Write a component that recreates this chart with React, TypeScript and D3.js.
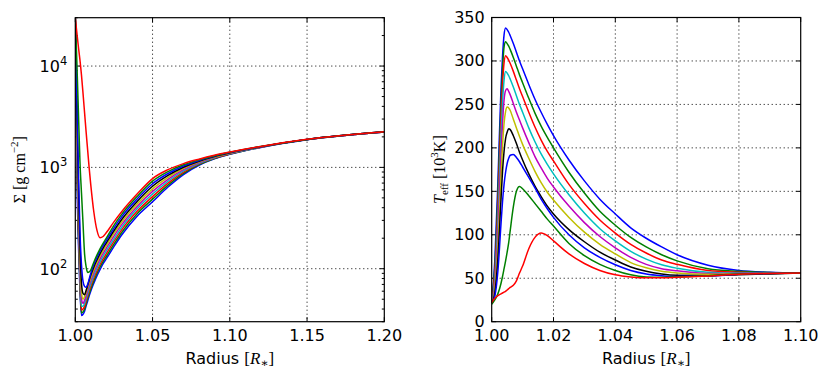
import React from 'react';
import * as d3 from 'd3';

// matplotlib classic colour cycle, one per model run
const runColors = ['#0000ff', '#008000', '#ff0000', '#00bfbf', '#bf00bf', '#bfbf00', '#000000', '#0000ff', '#008000', '#ff0000'];

// ---- left panel: surface density (log) ----
const sigmaRadius = [1.000, 1.001, 1.002, 1.003, 1.004, 1.005, 1.006, 1.007, 1.008, 1.009, 1.010, 1.012, 1.014, 1.016, 1.018, 1.020, 1.025, 1.030, 1.040, 1.050, 1.060, 1.070, 1.080, 1.090, 1.100, 1.120, 1.150, 1.200];
const sigma1 = [30000, 900, 180, 62, 34.5, 35.5, 38, 43, 48, 54, 60, 72, 85, 98, 112, 125, 165, 215, 330, 458, 640, 850, 1050, 1215, 1345, 1575, 1878, 2235];
const sigma2 = [30000, 1200, 220, 70, 36.5, 37.5, 40, 45, 51, 57, 63, 76, 90, 104, 118, 132, 175, 228, 349, 486, 669, 874, 1066, 1226, 1353, 1579, 1879, 2236];
const sigma3 = [30000, 1500, 270, 80, 39, 40, 42.5, 48, 54, 60.5, 67, 81, 95, 110, 125, 140, 186, 242, 369, 515, 699, 898, 1083, 1237, 1361, 1583, 1881, 2237];
const sigma4 = [30000, 1900, 330, 92, 43, 42.5, 45.5, 51, 57, 64, 71, 86, 101, 117, 133, 149, 197, 256, 390, 546, 730, 923, 1099, 1247, 1368, 1587, 1882, 2238];
const sigma5 = [30000, 2400, 420, 110, 51, 45.5, 49, 54.5, 61, 68.5, 76, 92, 108, 125, 142, 159, 210, 272, 412, 579, 763, 949, 1116, 1258, 1376, 1591, 1883, 2239];
const sigma6 = [30000, 3000, 540, 135, 59, 50, 53, 58.5, 65.5, 73, 81, 98, 115, 133, 151, 169, 223, 288, 436, 614, 797, 976, 1134, 1269, 1384, 1594, 1885, 2241];
const sigma7 = [30000, 3800, 700, 170, 72, 57, 55.5, 61, 68.5, 77, 86, 104, 122, 141, 160, 179, 237, 306, 461, 651, 833, 1003, 1151, 1281, 1392, 1598, 1886, 2242];
const sigma8 = [30000, 5000, 950, 240, 110, 75, 67, 65.5, 70, 79, 90, 110, 129, 149, 169, 189, 252, 325, 488, 690, 870, 1031, 1169, 1292, 1400, 1602, 1887, 2243];
const sigma9 = [30000, 11000, 3600, 1150, 560, 280, 140, 105, 92, 93, 97, 116, 136, 157, 178, 199, 268, 344, 516, 732, 909, 1060, 1187, 1303, 1408, 1606, 1889, 2244];
const sigma10 = [29500, 21400, 15500, 11500, 8130, 5370, 3470, 2240, 1480, 977, 676, 363, 240, 202, 208, 226, 290, 365, 545, 776, 950, 1090, 1205, 1315, 1416, 1610, 1890, 2245];
const sigmaSeries = [sigma1, sigma2, sigma3, sigma4, sigma5, sigma6, sigma7, sigma8, sigma9, sigma10];
const sigmaXTicks = [1.0, 1.05, 1.1, 1.15, 1.2];
const sigmaYTicks = [100, 1000, 10000];
const sigmaYExp = ['2', '3', '4'];

// ---- right panel: effective temperature ----
const teffRadius = [1.000, 1.001, 1.002, 1.003, 1.0035, 1.004, 1.0045, 1.005, 1.0055, 1.006, 1.007, 1.008, 1.009, 1.010, 1.012, 1.014, 1.016, 1.018, 1.020, 1.025, 1.030, 1.035, 1.040, 1.045, 1.050, 1.055, 1.060, 1.070, 1.080, 1.090, 1.100];
const teff1 = [22, 70, 160, 268, 305, 330, 338, 336, 333, 329, 320, 310, 300, 291, 273, 256, 241, 227, 214, 186, 162, 141, 124, 108, 96, 86, 77, 65, 59, 57, 56];
const teff2 = [22, 62, 145, 250, 290, 316, 322, 320, 317, 313, 304, 294, 284, 275, 257, 240, 225, 212, 200, 172, 148, 127, 111, 97, 86, 77, 70, 61, 58, 56.5, 56];
const teff3 = [22, 55, 130, 232, 272, 298, 306, 304, 301, 297, 288, 278, 268, 259, 241, 224, 209, 196, 185, 158, 136, 117, 102, 89, 79, 71, 66, 59, 57, 56, 56];
const teff4 = [22, 48, 115, 212, 252, 278, 288, 286, 283, 279, 270, 260, 250, 241, 223, 207, 193, 181, 170, 146, 125, 107, 93, 81, 72, 65.5, 61.5, 57, 56, 56, 56];
const teff5 = [22, 42, 100, 190, 228, 255, 266, 268, 265, 261, 251, 241, 232, 223, 206, 190, 177, 165, 155, 133, 114, 98, 85, 74, 66, 61, 58.5, 55.5, 55.5, 55.8, 56];
const teff6 = [21, 37, 85, 165, 202, 228, 242, 247, 246, 243, 233, 223, 213, 204, 188, 173, 160, 149, 140, 120, 103, 89, 78, 68, 62, 58, 56, 54.5, 55, 55.5, 56];
const teff7 = [21, 33, 72, 140, 173, 196, 211, 218, 222, 221, 214, 205, 195, 186, 170, 156, 144, 133, 124, 106, 92, 80, 71, 63, 58, 55, 53.5, 53, 54, 55, 56];
const teff8 = [21, 29, 58, 112, 138, 158, 172, 182, 188, 191.5, 192.5, 189, 184, 178, 166, 154, 141, 130, 120, 100, 85, 74, 65.5, 59, 55, 53, 52, 52.5, 54.5, 55.5, 56];
const teff9 = [20, 25, 32, 44, 52, 61, 70, 80, 91, 105, 132, 150, 155.5, 153, 145, 136, 127, 118, 110, 90, 76, 66, 59, 54, 51.5, 51, 51.5, 53, 55, 55.5, 56];
const teff10 = [22, 27, 30, 32, 33, 34, 35, 36.5, 38, 39.5, 42, 47, 56, 64, 84, 97, 102, 99, 93, 78, 67, 59, 54, 51.5, 50.5, 50.5, 51, 52.5, 54.5, 55.5, 56];
const teffSeries = [teff1, teff2, teff3, teff4, teff5, teff6, teff7, teff8, teff9, teff10];
const teffXTicks = [1.0, 1.02, 1.04, 1.06, 1.08, 1.1];
const teffYTicks = [0, 50, 100, 150, 200, 250, 300, 350];

const sans = 'DejaVu Sans, sans-serif';
const serif = 'Liberation Serif, DejaVu Serif, serif';
const gridDash = '1,3';

type Box = { x0: number; x1: number; y0: number; y1: number };
const leftBox: Box = { x0: 75.3, x1: 384.3, y0: 17.7, y1: 321.7 };
const rightBox: Box = { x0: 491.7, x1: 800.7, y0: 17.5, y1: 321.7 };

function Curves({ id, radius, series, x, y }: any) {
  const line = d3.line<number>()
    .x((_, i) => x(radius[i]))
    .y((v) => y(v))
    .curve(d3.curveMonotoneX);
  return (
    <g clipPath={`url(#${id})`}>
      {series.map((s: number[], i: number) => (
        <path key={i} d={line(s) || ''} fill="none" stroke={runColors[i]} strokeWidth={1.5} strokeLinejoin="round" />
      ))}
    </g>
  );
}

function XAxis({ box, x, ticks, fmt }: any) {
  return (
    <g>
      {ticks.map((t: number, i: number) => {
        const px = x(t);
        return (
          <g key={i}>
            {i > 0 && i < ticks.length - 1 && (
              <line x1={px} x2={px} y1={box.y0} y2={box.y1} stroke="#000" strokeWidth={1} strokeDasharray={gridDash} />
            )}
            <line x1={px} x2={px} y1={box.y1} y2={box.y1 - 4.5} stroke="#000" />
            <line x1={px} x2={px} y1={box.y0} y2={box.y0 + 4.5} stroke="#000" />
            <text x={px} y={340.5} textAnchor="middle" fontFamily={sans} fontSize={16}>{fmt(t)}</text>
          </g>
        );
      })}
      <text x={(box.x0 + box.x1) / 2} y={364} textAnchor="middle" fontFamily={sans} fontSize={16}>
        Radius <tspan fontFamily={serif} fontSize={17}>[</tspan>
        <tspan fontFamily={serif} fontStyle="italic" fontSize={17}>R</tspan>
        <tspan fontFamily={serif} fontSize={12} dy={3}>∗</tspan>
        <tspan fontFamily={serif} fontSize={17} dy={-3}>]</tspan>
      </text>
    </g>
  );
}

export default function App() {
  const xL = d3.scaleLinear().domain([1.0, 1.2]).range([leftBox.x0, leftBox.x1]);
  const yL = d3.scaleLog().domain([30, 30000]).range([leftBox.y1, leftBox.y0]);
  const xR = d3.scaleLinear().domain([1.0, 1.1]).range([rightBox.x0, rightBox.x1]);
  const yR = d3.scaleLinear().domain([0, 350]).range([rightBox.y1, rightBox.y0]);

  const minorL = yL.ticks().filter((t) => !sigmaYTicks.includes(t));
  const fmt2 = d3.format('.2f');

  return (
    <svg width={830} height={380} style={{ position: 'absolute', left: 0, top: 0, display: 'block', background: '#fff' }}>
      <defs>
        <clipPath id="clipL"><rect x={leftBox.x0} y={leftBox.y0} width={leftBox.x1 - leftBox.x0} height={leftBox.y1 - leftBox.y0} /></clipPath>
        <clipPath id="clipR"><rect x={rightBox.x0} y={rightBox.y0} width={rightBox.x1 - rightBox.x0} height={rightBox.y1 - rightBox.y0} /></clipPath>
      </defs>

      {/* left panel */}
      {sigmaYTicks.map((t, i) => (
        <g key={i}>
          <line x1={leftBox.x0} x2={leftBox.x1} y1={yL(t)} y2={yL(t)} stroke="#000" strokeWidth={1} strokeDasharray={gridDash} />
          <line x1={leftBox.x0} x2={leftBox.x0 + 4.5} y1={yL(t)} y2={yL(t)} stroke="#000" />
          <line x1={leftBox.x1} x2={leftBox.x1 - 4.5} y1={yL(t)} y2={yL(t)} stroke="#000" />
          <text x={leftBox.x0 - 8} y={yL(t) + 6} textAnchor="end" fontFamily={sans} fontSize={16}>
            10<tspan fontSize={11.5} dy={-7}>{sigmaYExp[i]}</tspan>
          </text>
        </g>
      ))}
      {minorL.map((t, i) => (
        <g key={i}>
          <line x1={leftBox.x0} x2={leftBox.x0 + 2.5} y1={yL(t)} y2={yL(t)} stroke="#000" />
          <line x1={leftBox.x1} x2={leftBox.x1 - 2.5} y1={yL(t)} y2={yL(t)} stroke="#000" />
        </g>
      ))}
      <XAxis box={leftBox} x={xL} ticks={sigmaXTicks} fmt={fmt2} />
      <Curves id="clipL" radius={sigmaRadius} series={sigmaSeries} x={xL} y={yL} />
      <rect x={leftBox.x0} y={leftBox.y0} width={leftBox.x1 - leftBox.x0} height={leftBox.y1 - leftBox.y0} fill="none" stroke="#000" strokeWidth={1.2} />
      <text transform={`translate(25,${(leftBox.y0 + leftBox.y1) / 2}) rotate(-90)`} textAnchor="middle" fontFamily={serif} fontSize={16}>
        Σ [g cm<tspan fontSize={11} dy={-7}>−2</tspan><tspan dy={7}>]</tspan>
      </text>

      {/* right panel */}
      {teffYTicks.map((t, i) => (
        <g key={i}>
          {i > 0 && i < teffYTicks.length - 1 && (
            <line x1={rightBox.x0} x2={rightBox.x1} y1={yR(t)} y2={yR(t)} stroke="#000" strokeWidth={1} strokeDasharray={gridDash} />
          )}
          <line x1={rightBox.x0} x2={rightBox.x0 + 4.5} y1={yR(t)} y2={yR(t)} stroke="#000" />
          <line x1={rightBox.x1} x2={rightBox.x1 - 4.5} y1={yR(t)} y2={yR(t)} stroke="#000" />
          <text x={rightBox.x0 - 7} y={yR(t) + 5.5} textAnchor="end" fontFamily={sans} fontSize={16}>{t}</text>
        </g>
      ))}
      <XAxis box={rightBox} x={xR} ticks={teffXTicks} fmt={fmt2} />
      <Curves id="clipR" radius={teffRadius} series={teffSeries} x={xR} y={yR} />
      <rect x={rightBox.x0} y={rightBox.y0} width={rightBox.x1 - rightBox.x0} height={rightBox.y1 - rightBox.y0} fill="none" stroke="#000" strokeWidth={1.2} />
      <text transform={`translate(445,${(rightBox.y0 + rightBox.y1) / 2}) rotate(-90)`} textAnchor="middle" fontFamily={serif} fontSize={16}>
        <tspan fontStyle="italic">T</tspan><tspan fontSize={11} dy={3}>eff</tspan>
        <tspan dy={-3}> [10</tspan><tspan fontSize={11} dy={-7}>3</tspan><tspan dy={7}>K]</tspan>
      </text>
    </svg>
  );
}
